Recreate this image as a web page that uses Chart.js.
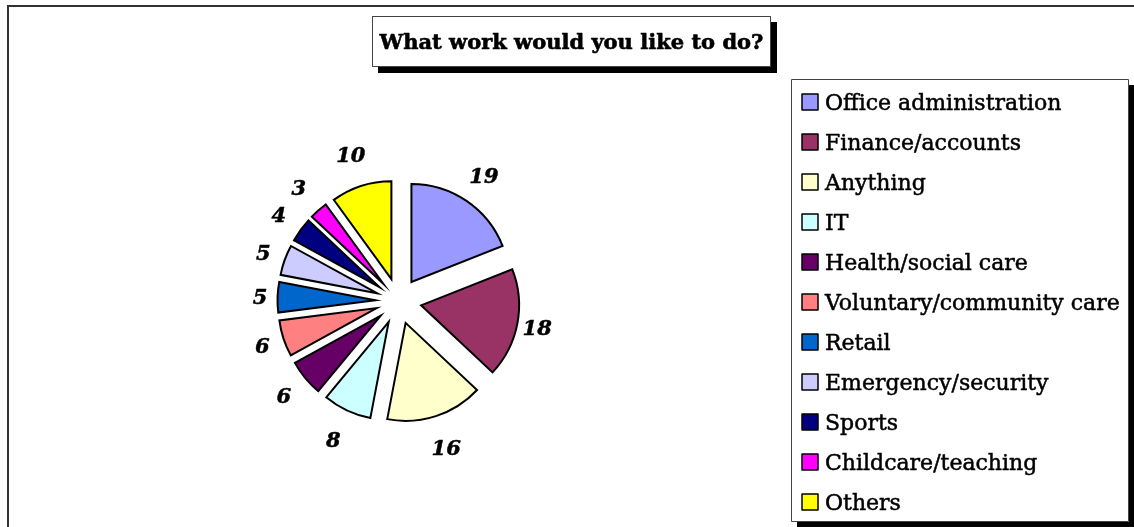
<!DOCTYPE html>
<html>
<head>
<meta charset="utf-8">
<script src="https://cdn.jsdelivr.net/npm/chart.js@4.4.1/dist/chart.umd.min.js"></script>
<style>
  html, body { margin: 0; padding: 0; background: #fff; overflow: hidden; }
  #wrap { position: relative; width: 1134px; height: 527px; }
</style>
</head>
<body>
<div id="wrap"><canvas id="c" width="1134" height="527"></canvas></div>
<script>
// Survey answers: "What work would you like to do?"
const chartTitle = 'What work would you like to do?';
const categories = [
  'Office administration',
  'Finance/accounts',
  'Anything',
  'IT',
  'Health/social care',
  'Voluntary/community care',
  'Retail',
  'Emergency/security',
  'Sports',
  'Childcare/teaching',
  'Others'
];
const counts = [19, 18, 16, 8, 6, 6, 5, 5, 4, 3, 10];
const sliceColors = [
  '#9999FF', '#993366', '#FFFFCC', '#CCFFFF', '#660066', '#FF8080',
  '#0066CC', '#CCCCFF', '#000080', '#FF00FF', '#FFFF00'
];

const SERIF = '"DejaVu Serif", serif';

// Pie slice that is pushed out along its bisector by `offset` pixels
// while keeping the full radius and angular span.
class ExplodedArc extends Chart.ArcElement {
  draw(ctx) {
    const { x, y, startAngle, endAngle, outerRadius, options } = this;
    const mid = (startAngle + endAngle) / 2;
    const d = options.offset || 0;
    const cx = x + Math.cos(mid) * d;
    const cy = y + Math.sin(mid) * d;
    ctx.save();
    ctx.beginPath();
    ctx.moveTo(cx, cy);
    ctx.arc(cx, cy, outerRadius, startAngle, endAngle);
    ctx.closePath();
    ctx.fillStyle = options.backgroundColor;
    ctx.fill();
    if (options.borderWidth) {
      ctx.lineWidth = options.borderWidth;
      ctx.strokeStyle = options.borderColor;
      ctx.lineJoin = 'miter';
      ctx.miterLimit = 12;
      ctx.stroke();
    }
    ctx.restore();
  }
}
ExplodedArc.id = 'explodedArc';
ExplodedArc.defaults = Object.assign({}, Chart.ArcElement.defaults);
ExplodedArc.defaultRoutes = Chart.ArcElement.defaultRoutes;
Chart.register(ExplodedArc);
Chart.defaults.datasets.pie.dataElementType = 'explodedArc';

// Text with a thin outline of the same colour, for a heavier face
function heavyText(ctx, txt, x, y, weight) {
  ctx.fillText(txt, x, y);
  ctx.lineWidth = weight;
  ctx.strokeStyle = ctx.fillStyle;
  ctx.lineJoin = 'round';
  ctx.strokeText(txt, x, y);
}

// White page with the outer frame lines
const framePlugin = {
  id: 'frame',
  beforeDraw(chart) {
    const ctx = chart.ctx;
    ctx.save();
    ctx.fillStyle = '#fff';
    ctx.fillRect(0, 0, chart.width, chart.height);
    ctx.strokeStyle = '#333';
    ctx.lineWidth = 2;
    ctx.beginPath();
    ctx.moveTo(8, chart.height);
    ctx.lineTo(8, 6);
    ctx.lineTo(chart.width, 6);
    ctx.stroke();
    ctx.restore();
  }
};

// Value labels outside each slice
const valueLabelPlugin = {
  id: 'valueLabels',
  afterDatasetsDraw(chart) {
    const ctx = chart.ctx;
    const meta = chart.getDatasetMeta(0);
    const values = chart.data.datasets[0].data;
    ctx.save();
    ctx.font = 'italic bold 21px ' + SERIF;
    ctx.fillStyle = '#000';
    ctx.textAlign = 'center';
    ctx.textBaseline = 'alphabetic';
    meta.data.forEach((arc, i) => {
      const mid = (arc.startAngle + arc.endAngle) / 2;
      const ux = Math.cos(mid), uy = Math.sin(mid);
      const dist = arc.outerRadius + (arc.options.offset || 0) + 17 + 17 * Math.abs(uy);
      const lx = arc.x + ux * dist;
      const ly = arc.y + uy * dist;
      const txt = String(values[i]);
      const m = ctx.measureText(txt);
      heavyText(ctx, txt, lx, ly + (m.actualBoundingBoxAscent - m.actualBoundingBoxDescent) / 2, 0.5);
    });
    ctx.restore();
  }
};

// Title box and legend box, each with a drop shadow
const boxesPlugin = {
  id: 'boxes',
  afterDraw(chart) {
    const ctx = chart.ctx;
    const shadowBox = (x, y, w, h) => {
      ctx.fillStyle = '#000';
      ctx.fillRect(x + 6, y + 6, w, h);
      ctx.fillStyle = '#fff';
      ctx.fillRect(x, y, w, h);
      ctx.strokeStyle = '#444';
      ctx.lineWidth = 1;
      ctx.strokeRect(x + 0.5, y + 0.5, w - 1, h - 1);
    };
    ctx.save();

    // title
    shadowBox(372, 16, 399, 51);
    ctx.font = 'bold 21px ' + SERIF;
    ctx.fillStyle = '#000';
    ctx.textAlign = 'center';
    ctx.textBaseline = 'alphabetic';
    const capT = ctx.measureText('W').actualBoundingBoxAscent;
    heavyText(ctx, chartTitle, 372 + 399 / 2, 16 + 51 / 2 + capT / 2, 0.6);

    // legend
    shadowBox(791, 79, 338, 443);
    const labels = chart.data.labels;
    const colors = chart.data.datasets[0].backgroundColor;
    ctx.font = '22px ' + SERIF;
    ctx.textAlign = 'left';
    const capL = ctx.measureText('H').actualBoundingBoxAscent;
    labels.forEach((lab, i) => {
      const cy = 102 + i * 40;
      ctx.fillStyle = colors[i];
      ctx.fillRect(802, cy - 8, 16, 16);
      ctx.strokeStyle = '#000';
      ctx.lineWidth = 1.5;
      ctx.strokeRect(802, cy - 8, 16, 16);
      ctx.fillStyle = '#000';
      heavyText(ctx, lab, 825, cy + capL / 2, 0.5);
    });
    ctx.restore();
  }
};

new Chart(document.getElementById('c').getContext('2d'), {
  type: 'pie',
  data: {
    labels: categories,
    datasets: [{
      data: counts,
      backgroundColor: sliceColors,
      borderColor: '#000',
      borderWidth: 2,
      offset: 23,
      radius: 98
    }]
  },
  options: {
    responsive: false,
    animation: false,
    events: [],
    layout: { padding: { left: 298.5, right: 635.5, top: 201, bottom: 126 } },
    plugins: {
      legend: { display: false },
      title: { display: false },
      tooltip: { enabled: false }
    }
  },
  plugins: [framePlugin, valueLabelPlugin, boxesPlugin]
});
</script>
</body>
</html>
